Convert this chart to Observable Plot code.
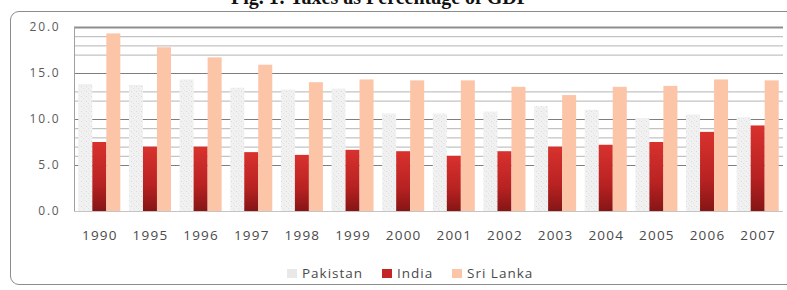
<!DOCTYPE html>
<html>
<head>
<meta charset="utf-8">
<script src="https://cdn.jsdelivr.net/npm/d3@7"></script>
<script src="https://cdn.jsdelivr.net/npm/@observablehq/plot@0.6"></script>
<style>
  body { margin: 0; background: #fff; }
  #wrap { position: relative; width: 787px; height: 290px; overflow: hidden; background: #fff; }
  .title { position: absolute; left: 0; top: -13px; width: 760px; text-align: center;
           font-family: "Liberation Serif", "Times New Roman", serif; font-weight: bold;
           font-size: 20px; line-height: 20px; color: #111; }
  .frame { position: absolute; left: 10px; top: 11px; width: 800px; height: 272px;
           border: 1px solid #8c8c8c; border-radius: 9px; }
  #chart { position: absolute; left: 0; top: 0; }
  #chart svg { font-family: "Open Sans", sans-serif; }
  #chart g[aria-label="y-axis tick label"] text { letter-spacing: 1.8px; }
  #chart g[aria-label="x-axis tick label"] text { letter-spacing: 1.2px; }
  .legend { position: absolute; top: 264px; left: 0; width: 787px; height: 18px;
            font-family: "Open Sans", sans-serif; font-size: 13.5px; color: #4a4a4a; letter-spacing: 1px; }
  .legend .item { position: absolute; top: 0; line-height: 18px; white-space: nowrap; }
  .legend .sw { display: inline-block; width: 10px; height: 9px; margin-right: 5px; }
</style>
</head>
<body>
<div id="wrap">
  <div class="title">Fig. 1: Taxes as Percentage of GDP</div>
  <div class="frame"></div>
  <div id="chart"></div>
  <div class="legend" id="legend"></div>
</div>
<script>
const years = ["1990","1995","1996","1997","1998","1999","2000","2001","2002","2003","2004","2005","2006","2007"];
const series = ["Pakistan", "India", "Sri Lanka"];
const pakistan = [13.8, 13.7, 14.3, 13.4, 13.2, 13.3, 10.6, 10.6, 10.8, 11.4, 11.0, 10.1, 10.5, 10.2];
const india    = [7.5, 7.0, 7.0, 6.4, 6.1, 6.65, 6.5, 6.0, 6.5, 7.0, 7.2, 7.5, 8.6, 9.3];
const sriLanka = [19.3, 17.8, 16.7, 15.9, 14.0, 14.3, 14.2, 14.2, 13.5, 12.6, 13.5, 13.6, 14.3, 14.2];
const yTicks = [0, 5, 10, 15, 20];
const majorGrid = [5, 10, 15];
const minorGrid = [6, 7, 8, 9, 12, 13, 17, 18, 19];

const gap = 0.17;                 // gap between clusters (fraction of a category slot)
const bw = (1 - gap) / series.length;
const values = [pakistan, india, sriLanka];
const rows = [];
years.forEach((yr, i) => {
  series.forEach((s, k) => {
    const x1 = i - 0.5 + gap / 2 + k * bw;
    rows.push({year: yr, series: s, x1, x2: x1 + bw, value: values[k][i]});
  });
});
const fills = {"Pakistan": "url(#pkPattern)", "India": "url(#inGrad)", "Sri Lanka": "#fcc5a8"};

const chart = Plot.plot({
  width: 787,
  height: 290,
  marginLeft: 74,
  marginRight: 4,
  marginTop: 27,
  marginBottom: 79,
  x: {domain: [-0.5, years.length - 0.5], axis: null},
  y: {domain: [0, 20], axis: null},
  marks: [
    Plot.ruleY(minorGrid, {stroke: "#b4b4b4", strokeWidth: 1}),
    Plot.ruleY(majorGrid, {stroke: "#7e7e7e", strokeWidth: 1}),
    Plot.ruleY([20], {stroke: "#8e8e8e", strokeWidth: 2}),
    Plot.rectY(rows, {x1: "x1", x2: "x2", y: "value", fill: d => fills[d.series]}),
    Plot.ruleY([0], {stroke: "#c4c4c4"}),
    Plot.ruleX([-0.5], {y1: 0, y2: 20, stroke: "#a0a0a0"}),
    Plot.axisY({ticks: yTicks, tickFormat: d3.format(".1f"), tickSize: 0, tickPadding: 14,
                fontSize: 12, fill: "#5a5a5a", label: null}),
    Plot.axisX({ticks: d3.range(years.length), tickFormat: i => years[i], tickSize: 0,
                tickPadding: 19, fontSize: 13.5, fill: "#4a4a4a", label: null})
  ]
});
chart.insertAdjacentHTML("afterbegin", `
<defs>
  <pattern id="pkPattern" width="5" height="5" patternUnits="userSpaceOnUse">
    <rect width="5" height="5" fill="#f1f1f1"/>
    <rect x="1" y="1" width="1" height="1" fill="#dadada"/>
    <rect x="3" y="3" width="1" height="1" fill="#e2e2e2"/>
    <rect x="4" y="0" width="1" height="1" fill="#e6e6e6"/>
  </pattern>
  <linearGradient id="inGrad" x1="0" y1="0" x2="0" y2="1">
    <stop offset="0" stop-color="#d8322e"/>
    <stop offset="0.6" stop-color="#b82222"/>
    <stop offset="1" stop-color="#861515"/>
  </linearGradient>
</defs>`);
document.getElementById("chart").appendChild(chart);

const legendColors = {"Pakistan": "#e8e8e8", "India": "#c42626", "Sri Lanka": "#fcc5a8"};
const legendLeft = {"Pakistan": 287, "India": 382, "Sri Lanka": 452};
const legend = document.getElementById("legend");
series.forEach(s => {
  const item = document.createElement("div");
  item.className = "item";
  item.style.left = legendLeft[s] + "px";
  item.innerHTML = `<span class="sw" style="background:${legendColors[s]}"></span>${s}`;
  legend.appendChild(item);
});
</script>
</body>
</html>
